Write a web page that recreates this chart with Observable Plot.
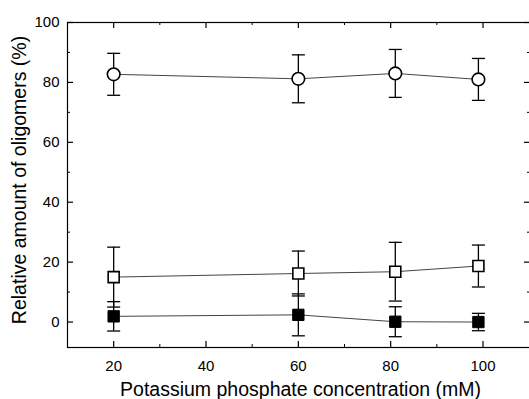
<!DOCTYPE html>
<html>
<head>
<meta charset="utf-8">
<script src="https://cdn.jsdelivr.net/npm/d3@7"></script>
<script src="https://cdn.jsdelivr.net/npm/@observablehq/plot@0.6"></script>
<style>
  html, body { margin: 0; padding: 0; background: #fff; }
  #chart svg { display: block; }
</style>
</head>
<body>
<div id="chart"></div>
<script>
// Data
const concentration = [20, 60, 81, 99];
const openCircle = [82.7, 81.2, 83, 81];
const openCircleErr = [7, 8, 8, 7];
const openSquare = [15, 16.2, 16.8, 18.7];
const openSquareErr = [10, 7.5, 9.8, 7];
const filledSquare = [1.9, 2.4, 0.1, 0];
const filledSquareErr = [4.9, 7, 5, 2.9];

const xMajor = [20, 40, 60, 80, 100];
const xMinor = [30, 50, 70, 90];
const yMajor = [0, 20, 40, 60, 80, 100];
const yMinor = [10, 30, 50, 70, 90];

const xLabel = "Potassium phosphate concentration (mM)";
const yLabel = "Relative amount of oligomers (%)";

function series(name, vals, errs) {
  return concentration.map((c, i) => ({series: name, x: c, y: vals[i], lo: vals[i] - errs[i], hi: vals[i] + errs[i]}));
}
const sCircle = series("circle", openCircle, openCircleErr);
const sOpenSq = series("openSquare", openSquare, openSquareErr);
const sFillSq = series("filledSquare", filledSquare, filledSquareErr);
const all = [...sCircle, ...sOpenSq, ...sFillSq];

const W = 529, H = 399;
const mL = 67, mR = -2, mT = 22, mB = 52;
const fw = W - mL - mR, fh = H - mT - mB;

const capSymbol = { draw(ctx, size) { const w = 6.5; ctx.moveTo(-w, 0); ctx.lineTo(w, 0); } };

const chart = Plot.plot({
  width: W, height: H,
  marginLeft: mL, marginRight: mR, marginTop: mT, marginBottom: mB,
  style: { fontFamily: "'Liberation Sans', Arial, sans-serif", background: "#fff", color: "#000", overflow: "hidden" },
  x: { domain: [10, 110.5] },
  y: { domain: [-8.5, 100] },
  marks: [
    Plot.frame({ stroke: "#000", strokeWidth: 1.2 }),
    // inward ticks: bottom & top
    Plot.tickX(xMajor, { x: d => d, insetTop: fh - 6, stroke: "#000", strokeWidth: 1.2 }),
    Plot.tickX(xMinor, { x: d => d, insetTop: fh - 3, stroke: "#000", strokeWidth: 1 }),
    Plot.tickX(xMajor, { x: d => d, insetBottom: fh - 6, stroke: "#000", strokeWidth: 1.2 }),
    Plot.tickX(xMinor, { x: d => d, insetBottom: fh - 3, stroke: "#000", strokeWidth: 1 }),
    // inward ticks: left & right
    Plot.tickY(yMajor, { y: d => d, insetRight: fw - 6, stroke: "#000", strokeWidth: 1.2 }),
    Plot.tickY(yMinor, { y: d => d, insetRight: fw - 3, stroke: "#000", strokeWidth: 1 }),
    Plot.tickY(yMajor, { y: d => d, insetLeft: fw - 7, stroke: "#000", strokeWidth: 1.2 }),
    Plot.tickY(yMinor, { y: d => d, insetLeft: fw - 4, stroke: "#000", strokeWidth: 1 }),
    // tick labels
    Plot.axisX({ ticks: xMajor, tickSize: 0, tickPadding: 13, fontSize: 15, label: null }),
    Plot.axisY({ ticks: yMajor, tickSize: 0, tickPadding: 8, fontSize: 15, label: null }),
    // axis labels
    Plot.text([xLabel], { frameAnchor: "bottom", textAnchor: "middle", lineAnchor: "middle", dx: 1, dy: 42, fontSize: 19.5, letterSpacing: 1.1 }),
    Plot.text([yLabel], { frameAnchor: "left", textAnchor: "middle", lineAnchor: "middle", rotate: -90, dx: -48, dy: -5, fontSize: 19.5, letterSpacing: 0.9 }),
    // connecting lines
    Plot.line(all, { x: "x", y: "y", z: "series", stroke: "#444", strokeWidth: 1 }),
    // error bars
    Plot.ruleX(all, { x: "x", y1: "lo", y2: "hi", stroke: "#000", strokeWidth: 1.3 }),
    Plot.dot(all, { x: "x", y: "lo", symbol: capSymbol, stroke: "#000", strokeWidth: 1.3, fill: "none" }),
    Plot.dot(all, { x: "x", y: "hi", symbol: capSymbol, stroke: "#000", strokeWidth: 1.3, fill: "none" }),
    // markers
    Plot.dot(sCircle, { x: "x", y: "y", r: 6.3, symbol: "circle", fill: "#fff", stroke: "#000", strokeWidth: 1.6 }),
    Plot.dot(sOpenSq, { x: "x", y: "y", r: 6.2, symbol: "square", fill: "#fff", stroke: "#000", strokeWidth: 1.6 }),
    Plot.dot(sFillSq, { x: "x", y: "y", r: 6.4, symbol: "square", fill: "#000", stroke: "#000", strokeWidth: 1 })
  ]
});
document.getElementById("chart").appendChild(chart);
</script>
</body>
</html>
